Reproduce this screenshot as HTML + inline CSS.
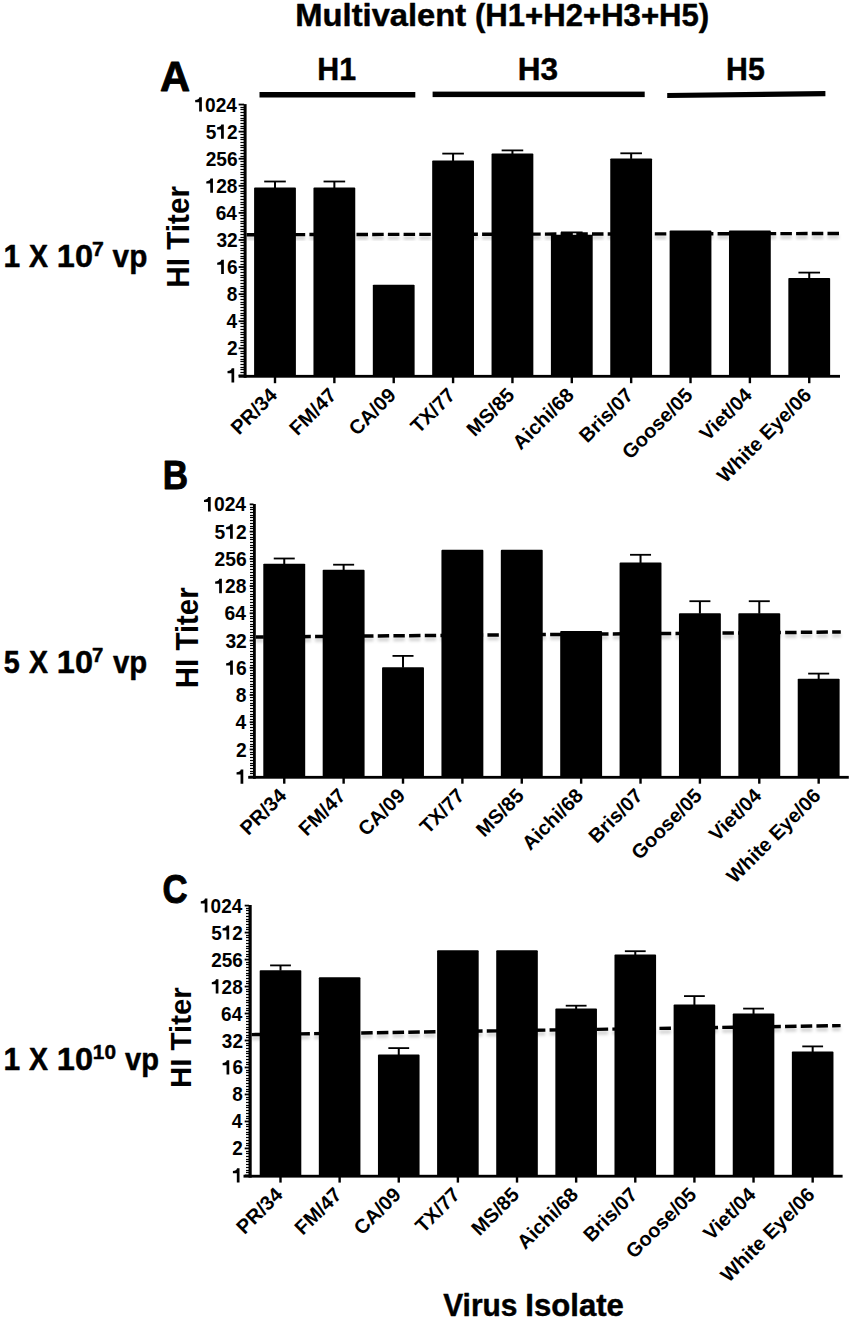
<!DOCTYPE html>
<html><head><meta charset="utf-8"><title>Multivalent HI Titer</title>
<style>html,body{margin:0;padding:0;background:#fff;width:850px;height:1322px;overflow:hidden}
svg{display:block}
text{font-family:"Liberation Sans",sans-serif;font-weight:bold;fill:#000}</style></head>
<body><svg width="850" height="1322" viewBox="0 0 850 1322">
<defs><filter id="sh" x="-5%" y="-200%" width="110%" height="500%"><feGaussianBlur stdDeviation="1.6"/></filter></defs>
<rect width="850" height="1322" fill="#fff"/>
<text transform="matrix(0.32724 0 0 0.31014 295.31 26.00)" font-size="100" stroke="#000" stroke-width="1.412" stroke-linejoin="round">Multivalent</text>
<text transform="matrix(0.31117 0 0 0.31014 474.94 26.00)" font-size="100" stroke="#000" stroke-width="1.449" stroke-linejoin="round">(H1+H2+H3+H5)</text>
<text transform="matrix(0.41667 0 0 0.42464 159.95 91.20)" font-size="100" stroke="#000" stroke-width="2.140" stroke-linejoin="round">A</text>
<text transform="matrix(0.35082 0 0 0.41304 162.74 488.70)" font-size="100" stroke="#000" stroke-width="2.356" stroke-linejoin="round">B</text>
<text transform="matrix(0.34769 0 0 0.41449 162.61 902.60)" font-size="100" stroke="#000" stroke-width="2.362" stroke-linejoin="round">C</text>
<text transform="matrix(0.30339 0 0 0.31739 317.28 80.10)" font-size="100" stroke="#000" stroke-width="1.450" stroke-linejoin="round">H1</text>
<text transform="matrix(0.31538 0 0 0.31159 517.79 79.70)" font-size="100" stroke="#000" stroke-width="1.435" stroke-linejoin="round">H3</text>
<text transform="matrix(0.30254 0 0 0.30725 726.08 79.70)" font-size="100" stroke="#000" stroke-width="1.476" stroke-linejoin="round">H5</text>
<rect x="259.50" y="92.00" width="155.80" height="5.50" fill="#000"/>
<rect x="432.60" y="91.60" width="212.10" height="5.50" fill="#000"/>
<polygon points="667.2,92.9 825.4,90.9 825.4,96.3 667.2,98.1"/>
<text transform="matrix(0.30000 0 0 0.32174 3.50 266.70)" font-size="100" stroke="#000" stroke-width="1.448" stroke-linejoin="round">1</text>
<text transform="matrix(0.28438 0 0 0.32174 29.12 266.70)" font-size="100" stroke="#000" stroke-width="1.485" stroke-linejoin="round">X</text>
<text transform="matrix(0.32475 0 0 0.32174 56.85 266.70)" font-size="100" stroke="#000" stroke-width="1.392" stroke-linejoin="round">10</text>
<text transform="matrix(0.21277 0 0 0.20725 92.05 255.60)" font-size="100" stroke="#000" stroke-width="2.143" stroke-linejoin="round">7</text>
<text transform="matrix(0.29730 0 0 0.31698 112.60 266.70)" font-size="100" stroke="#000" stroke-width="1.465" stroke-linejoin="round">vp</text>
<text transform="matrix(0.28800 0 0 0.32174 3.84 672.70)" font-size="100" stroke="#000" stroke-width="1.476" stroke-linejoin="round">5</text>
<text transform="matrix(0.28438 0 0 0.32174 29.12 672.70)" font-size="100" stroke="#000" stroke-width="1.485" stroke-linejoin="round">X</text>
<text transform="matrix(0.32475 0 0 0.32174 56.85 672.70)" font-size="100" stroke="#000" stroke-width="1.392" stroke-linejoin="round">10</text>
<text transform="matrix(0.20426 0 0 0.20290 92.08 661.60)" font-size="100" stroke="#000" stroke-width="2.210" stroke-linejoin="round">7</text>
<text transform="matrix(0.29369 0 0 0.31698 113.01 672.70)" font-size="100" stroke="#000" stroke-width="1.474" stroke-linejoin="round">vp</text>
<text transform="matrix(0.30000 0 0 0.32174 3.50 1069.50)" font-size="100" stroke="#000" stroke-width="1.448" stroke-linejoin="round">1</text>
<text transform="matrix(0.28438 0 0 0.32174 29.12 1069.50)" font-size="100" stroke="#000" stroke-width="1.485" stroke-linejoin="round">X</text>
<text transform="matrix(0.32574 0 0 0.32174 56.85 1069.50)" font-size="100" stroke="#000" stroke-width="1.390" stroke-linejoin="round">10</text>
<text transform="matrix(0.20792 0 0 0.20000 92.85 1058.60)" font-size="100" stroke="#000" stroke-width="2.206" stroke-linejoin="round">10</text>
<text transform="matrix(0.29099 0 0 0.32075 125.01 1069.50)" font-size="100" stroke="#000" stroke-width="1.471" stroke-linejoin="round">vp</text>
<text transform="matrix(0 -0.29701 0.30580 0 188.90 287.78)" font-size="100">HI Titer</text>
<text transform="matrix(0 -0.29431 0.30725 0 198.20 688.16)" font-size="100">HI Titer</text>
<text transform="matrix(0 -0.29401 0.30145 0 191.10 1087.96)" font-size="100">HI Titer</text>
<text transform="matrix(0.29918 0 0 0.32174 443.20 1316.40)" font-size="100" stroke="#000" stroke-width="1.449" stroke-linejoin="round">Virus</text>
<text transform="matrix(0.31111 0 0 0.32174 525.32 1316.40)" font-size="100" stroke="#000" stroke-width="1.422" stroke-linejoin="round">Isolate</text>
<rect x="243.60" y="104.10" width="3.00" height="273.60" fill="#000"/>
<rect x="238.60" y="374.90" width="601.40" height="2.80" fill="#000"/>
<rect x="238.60" y="374.50" width="5.50" height="1.80" fill="#000"/>
<g transform="matrix(0.19136 0 0 0.20143 226.76 382.45)"><path transform="translate(0.0 0)" d="M38.9 0L24.7 0L24.7 -46L4 -46L4 -57C16 -57.5 24 -62.5 26 -71L38.9 -71Z"/></g>
<rect x="240.40" y="371.90" width="3.70" height="1.20" fill="#000"/>
<rect x="240.40" y="368.90" width="3.70" height="1.20" fill="#000"/>
<rect x="240.40" y="366.90" width="3.70" height="1.20" fill="#000"/>
<rect x="240.40" y="363.90" width="3.70" height="1.20" fill="#000"/>
<rect x="240.40" y="360.90" width="3.70" height="1.20" fill="#000"/>
<rect x="240.40" y="358.90" width="3.70" height="1.20" fill="#000"/>
<rect x="240.40" y="355.90" width="3.70" height="1.20" fill="#000"/>
<rect x="240.40" y="352.90" width="3.70" height="1.20" fill="#000"/>
<rect x="240.40" y="350.90" width="3.70" height="1.20" fill="#000"/>
<rect x="238.60" y="347.42" width="5.50" height="1.80" fill="#000"/>
<g transform="matrix(0.19136 0 0 0.20143 226.95 355.37)"><text x="0.0" y="0" font-size="100">2</text></g>
<rect x="240.40" y="344.90" width="3.70" height="1.20" fill="#000"/>
<rect x="240.40" y="341.90" width="3.70" height="1.20" fill="#000"/>
<rect x="240.40" y="339.90" width="3.70" height="1.20" fill="#000"/>
<rect x="240.40" y="336.90" width="3.70" height="1.20" fill="#000"/>
<rect x="240.40" y="333.90" width="3.70" height="1.20" fill="#000"/>
<rect x="240.40" y="331.90" width="3.70" height="1.20" fill="#000"/>
<rect x="240.40" y="328.90" width="3.70" height="1.20" fill="#000"/>
<rect x="240.40" y="325.90" width="3.70" height="1.20" fill="#000"/>
<rect x="240.40" y="322.90" width="3.70" height="1.20" fill="#000"/>
<rect x="238.60" y="320.33" width="5.50" height="1.80" fill="#000"/>
<g transform="matrix(0.19136 0 0 0.20143 226.38 328.28)"><text x="0.0" y="0" font-size="100">4</text></g>
<rect x="240.40" y="317.90" width="3.70" height="1.20" fill="#000"/>
<rect x="240.40" y="314.90" width="3.70" height="1.20" fill="#000"/>
<rect x="240.40" y="312.90" width="3.70" height="1.20" fill="#000"/>
<rect x="240.40" y="309.90" width="3.70" height="1.20" fill="#000"/>
<rect x="240.40" y="306.90" width="3.70" height="1.20" fill="#000"/>
<rect x="240.40" y="303.90" width="3.70" height="1.20" fill="#000"/>
<rect x="240.40" y="301.90" width="3.70" height="1.20" fill="#000"/>
<rect x="240.40" y="298.90" width="3.70" height="1.20" fill="#000"/>
<rect x="240.40" y="295.90" width="3.70" height="1.20" fill="#000"/>
<rect x="238.60" y="293.25" width="5.50" height="1.80" fill="#000"/>
<g transform="matrix(0.19136 0 0 0.20143 226.76 301.19)"><text x="0.0" y="0" font-size="100">8</text></g>
<rect x="240.40" y="290.90" width="3.70" height="1.20" fill="#000"/>
<rect x="240.40" y="287.90" width="3.70" height="1.20" fill="#000"/>
<rect x="240.40" y="285.90" width="3.70" height="1.20" fill="#000"/>
<rect x="240.40" y="282.90" width="3.70" height="1.20" fill="#000"/>
<rect x="240.40" y="279.90" width="3.70" height="1.20" fill="#000"/>
<rect x="240.40" y="276.90" width="3.70" height="1.20" fill="#000"/>
<rect x="240.40" y="274.90" width="3.70" height="1.20" fill="#000"/>
<rect x="240.40" y="271.90" width="3.70" height="1.20" fill="#000"/>
<rect x="240.40" y="268.90" width="3.70" height="1.20" fill="#000"/>
<rect x="238.60" y="266.16" width="5.50" height="1.80" fill="#000"/>
<g transform="matrix(0.19136 0 0 0.20143 216.42 274.11)"><path transform="translate(0.0 0)" d="M38.9 0L24.7 0L24.7 -46L4 -46L4 -57C16 -57.5 24 -62.5 26 -71L38.9 -71Z"/><text x="55.6" y="0" font-size="100">6</text></g>
<rect x="240.40" y="263.90" width="3.70" height="1.20" fill="#000"/>
<rect x="240.40" y="260.90" width="3.70" height="1.20" fill="#000"/>
<rect x="240.40" y="257.90" width="3.70" height="1.20" fill="#000"/>
<rect x="240.40" y="255.90" width="3.70" height="1.20" fill="#000"/>
<rect x="240.40" y="252.90" width="3.70" height="1.20" fill="#000"/>
<rect x="240.40" y="249.90" width="3.70" height="1.20" fill="#000"/>
<rect x="240.40" y="247.90" width="3.70" height="1.20" fill="#000"/>
<rect x="240.40" y="244.90" width="3.70" height="1.20" fill="#000"/>
<rect x="240.40" y="241.90" width="3.70" height="1.20" fill="#000"/>
<rect x="238.60" y="239.07" width="5.50" height="1.80" fill="#000"/>
<g transform="matrix(0.19136 0 0 0.20143 216.42 247.03)"><text x="0.0" y="0" font-size="100">3</text><text x="55.6" y="0" font-size="100">2</text></g>
<rect x="240.40" y="236.90" width="3.70" height="1.20" fill="#000"/>
<rect x="240.40" y="233.90" width="3.70" height="1.20" fill="#000"/>
<rect x="240.40" y="230.90" width="3.70" height="1.20" fill="#000"/>
<rect x="240.40" y="228.90" width="3.70" height="1.20" fill="#000"/>
<rect x="240.40" y="225.90" width="3.70" height="1.20" fill="#000"/>
<rect x="240.40" y="222.90" width="3.70" height="1.20" fill="#000"/>
<rect x="240.40" y="220.90" width="3.70" height="1.20" fill="#000"/>
<rect x="240.40" y="217.90" width="3.70" height="1.20" fill="#000"/>
<rect x="240.40" y="214.90" width="3.70" height="1.20" fill="#000"/>
<rect x="238.60" y="211.99" width="5.50" height="1.80" fill="#000"/>
<g transform="matrix(0.19136 0 0 0.20143 215.66 219.94)"><text x="0.0" y="0" font-size="100">6</text><text x="55.6" y="0" font-size="100">4</text></g>
<rect x="240.40" y="209.90" width="3.70" height="1.20" fill="#000"/>
<rect x="240.40" y="206.90" width="3.70" height="1.20" fill="#000"/>
<rect x="240.40" y="203.90" width="3.70" height="1.20" fill="#000"/>
<rect x="240.40" y="201.90" width="3.70" height="1.20" fill="#000"/>
<rect x="240.40" y="198.90" width="3.70" height="1.20" fill="#000"/>
<rect x="240.40" y="195.90" width="3.70" height="1.20" fill="#000"/>
<rect x="240.40" y="192.90" width="3.70" height="1.20" fill="#000"/>
<rect x="240.40" y="190.90" width="3.70" height="1.20" fill="#000"/>
<rect x="240.40" y="187.90" width="3.70" height="1.20" fill="#000"/>
<rect x="238.60" y="184.91" width="5.50" height="1.80" fill="#000"/>
<g transform="matrix(0.19136 0 0 0.20143 205.52 192.86)"><path transform="translate(0.0 0)" d="M38.9 0L24.7 0L24.7 -46L4 -46L4 -57C16 -57.5 24 -62.5 26 -71L38.9 -71Z"/><text x="55.6" y="0" font-size="100">2</text><text x="111.2" y="0" font-size="100">8</text></g>
<rect x="240.40" y="182.90" width="3.70" height="1.20" fill="#000"/>
<rect x="240.40" y="179.90" width="3.70" height="1.20" fill="#000"/>
<rect x="240.40" y="176.90" width="3.70" height="1.20" fill="#000"/>
<rect x="240.40" y="173.90" width="3.70" height="1.20" fill="#000"/>
<rect x="240.40" y="171.90" width="3.70" height="1.20" fill="#000"/>
<rect x="240.40" y="168.90" width="3.70" height="1.20" fill="#000"/>
<rect x="240.40" y="165.90" width="3.70" height="1.20" fill="#000"/>
<rect x="240.40" y="163.90" width="3.70" height="1.20" fill="#000"/>
<rect x="240.40" y="160.90" width="3.70" height="1.20" fill="#000"/>
<rect x="238.60" y="157.82" width="5.50" height="1.80" fill="#000"/>
<g transform="matrix(0.19136 0 0 0.20143 205.71 165.77)"><text x="0.0" y="0" font-size="100">2</text><text x="55.6" y="0" font-size="100">5</text><text x="111.2" y="0" font-size="100">6</text></g>
<rect x="240.40" y="155.90" width="3.70" height="1.20" fill="#000"/>
<rect x="240.40" y="152.90" width="3.70" height="1.20" fill="#000"/>
<rect x="240.40" y="149.90" width="3.70" height="1.20" fill="#000"/>
<rect x="240.40" y="146.90" width="3.70" height="1.20" fill="#000"/>
<rect x="240.40" y="144.90" width="3.70" height="1.20" fill="#000"/>
<rect x="240.40" y="141.90" width="3.70" height="1.20" fill="#000"/>
<rect x="240.40" y="138.90" width="3.70" height="1.20" fill="#000"/>
<rect x="240.40" y="136.90" width="3.70" height="1.20" fill="#000"/>
<rect x="240.40" y="133.90" width="3.70" height="1.20" fill="#000"/>
<rect x="238.60" y="130.73" width="5.50" height="1.80" fill="#000"/>
<g transform="matrix(0.19136 0 0 0.20143 205.71 138.69)"><text x="0.0" y="0" font-size="100">5</text><path transform="translate(55.6 0)" d="M38.9 0L24.7 0L24.7 -46L4 -46L4 -57C16 -57.5 24 -62.5 26 -71L38.9 -71Z"/><text x="111.2" y="0" font-size="100">2</text></g>
<rect x="240.40" y="127.90" width="3.70" height="1.20" fill="#000"/>
<rect x="240.40" y="125.90" width="3.70" height="1.20" fill="#000"/>
<rect x="240.40" y="122.90" width="3.70" height="1.20" fill="#000"/>
<rect x="240.40" y="119.90" width="3.70" height="1.20" fill="#000"/>
<rect x="240.40" y="117.90" width="3.70" height="1.20" fill="#000"/>
<rect x="240.40" y="114.90" width="3.70" height="1.20" fill="#000"/>
<rect x="240.40" y="111.90" width="3.70" height="1.20" fill="#000"/>
<rect x="240.40" y="108.90" width="3.70" height="1.20" fill="#000"/>
<rect x="240.40" y="106.90" width="3.70" height="1.20" fill="#000"/>
<rect x="238.60" y="103.65" width="5.50" height="1.80" fill="#000"/>
<g transform="matrix(0.19136 0 0 0.20143 194.42 111.60)"><path transform="translate(0.0 0)" d="M38.9 0L24.7 0L24.7 -46L4 -46L4 -57C16 -57.5 24 -62.5 26 -71L38.9 -71Z"/><text x="55.6" y="0" font-size="100">0</text><text x="111.2" y="0" font-size="100">2</text><text x="166.8" y="0" font-size="100">4</text></g>
<line x1="246.6" y1="238.29999999999998" x2="839.0" y2="237.1" stroke="#000" stroke-opacity="0.18" stroke-width="3.5" stroke-dasharray="11.5 4.2" stroke-dashoffset="0" filter="url(#sh)"/>
<line x1="246.6" y1="234.7" x2="839.0" y2="233.5" stroke="#000" stroke-width="3.4" stroke-dasharray="11.5 4.2" stroke-dashoffset="0"/>
<rect x="254.10" y="187.60" width="41.80" height="188.70" rx="0.9"/>
<rect x="274.00" y="181.50" width="2.00" height="6.60" fill="#000"/>
<rect x="264.20" y="180.60" width="21.60" height="1.80" fill="#000"/>
<rect x="273.80" y="376.30" width="2.40" height="6.90" fill="#000"/>
<text transform="translate(278.30 396.50) rotate(-45)" text-anchor="end" font-size="20.0" stroke="#000" stroke-width="0.0" stroke-linejoin="round">PR/34</text>
<rect x="313.46" y="187.60" width="41.80" height="188.70" rx="0.9"/>
<rect x="333.36" y="181.50" width="2.00" height="6.60" fill="#000"/>
<rect x="323.56" y="180.60" width="21.60" height="1.80" fill="#000"/>
<rect x="333.16" y="376.30" width="2.40" height="6.90" fill="#000"/>
<text transform="translate(337.66 396.50) rotate(-45)" text-anchor="end" font-size="20.0" stroke="#000" stroke-width="0.0" stroke-linejoin="round">FM/47</text>
<rect x="372.82" y="284.70" width="41.80" height="91.60" rx="0.9"/>
<rect x="392.52" y="376.30" width="2.40" height="6.90" fill="#000"/>
<text transform="translate(397.02 396.50) rotate(-45)" text-anchor="end" font-size="20.0" stroke="#000" stroke-width="0.0" stroke-linejoin="round">CA/09</text>
<rect x="432.18" y="160.60" width="41.80" height="215.70" rx="0.9"/>
<rect x="452.08" y="153.60" width="2.00" height="7.50" fill="#000"/>
<rect x="442.28" y="152.70" width="21.60" height="1.80" fill="#000"/>
<rect x="451.88" y="376.30" width="2.40" height="6.90" fill="#000"/>
<text transform="translate(456.38 396.50) rotate(-45)" text-anchor="end" font-size="20.0" stroke="#000" stroke-width="0.0" stroke-linejoin="round">TX/77</text>
<rect x="491.54" y="153.60" width="41.80" height="222.70" rx="0.9"/>
<rect x="511.44" y="150.40" width="2.00" height="3.70" fill="#000"/>
<rect x="501.64" y="149.50" width="21.60" height="1.80" fill="#000"/>
<rect x="511.24" y="376.30" width="2.40" height="6.90" fill="#000"/>
<text transform="translate(515.74 396.50) rotate(-45)" text-anchor="end" font-size="20.0" stroke="#000" stroke-width="0.0" stroke-linejoin="round">MS/85</text>
<rect x="550.90" y="234.70" width="41.80" height="141.60" rx="0.9"/>
<rect x="570.80" y="232.40" width="2.00" height="2.80" fill="#000"/>
<rect x="561.00" y="231.50" width="21.60" height="1.80" fill="#000"/>
<rect x="570.60" y="376.30" width="2.40" height="6.90" fill="#000"/>
<text transform="translate(575.10 396.50) rotate(-45)" text-anchor="end" font-size="20.0" stroke="#000" stroke-width="0.0" stroke-linejoin="round">Aichi/68</text>
<rect x="610.26" y="158.40" width="41.80" height="217.90" rx="0.9"/>
<rect x="630.16" y="153.30" width="2.00" height="5.60" fill="#000"/>
<rect x="620.36" y="152.40" width="21.60" height="1.80" fill="#000"/>
<rect x="629.96" y="376.30" width="2.40" height="6.90" fill="#000"/>
<text transform="translate(634.46 396.50) rotate(-45)" text-anchor="end" font-size="20.0" stroke="#000" stroke-width="0.0" stroke-linejoin="round">Bris/07</text>
<rect x="669.62" y="230.50" width="41.80" height="145.80" rx="0.9"/>
<rect x="689.32" y="376.30" width="2.40" height="6.90" fill="#000"/>
<text transform="translate(693.82 396.50) rotate(-45)" text-anchor="end" font-size="20.0" stroke="#000" stroke-width="0.0" stroke-linejoin="round">Goose/05</text>
<rect x="728.98" y="230.50" width="41.80" height="145.80" rx="0.9"/>
<rect x="748.68" y="376.30" width="2.40" height="6.90" fill="#000"/>
<text transform="translate(753.18 396.50) rotate(-45)" text-anchor="end" font-size="20.0" stroke="#000" stroke-width="0.0" stroke-linejoin="round">Viet/04</text>
<rect x="788.34" y="277.90" width="41.80" height="98.40" rx="0.9"/>
<rect x="808.24" y="272.60" width="2.00" height="5.80" fill="#000"/>
<rect x="798.44" y="271.70" width="21.60" height="1.80" fill="#000"/>
<rect x="808.04" y="376.30" width="2.40" height="6.90" fill="#000"/>
<text transform="translate(812.54 396.50) rotate(-45)" text-anchor="end" font-size="20.0" stroke="#000" stroke-width="0.0" stroke-linejoin="round">White Eye/06</text>
<rect x="253.00" y="504.00" width="2.80" height="274.70" fill="#000"/>
<rect x="248.20" y="775.90" width="600.60" height="2.80" fill="#000"/>
<rect x="249.70" y="775.80" width="3.80" height="1.80" fill="#000"/>
<g transform="matrix(0.19271 0 0 0.20286 235.79 783.80)"><path transform="translate(0.0 0)" d="M38.9 0L24.7 0L24.7 -46L4 -46L4 -57C16 -57.5 24 -62.5 26 -71L38.9 -71Z"/></g>
<rect x="250.00" y="772.90" width="3.50" height="1.20" fill="#000"/>
<rect x="250.00" y="770.90" width="3.50" height="1.20" fill="#000"/>
<rect x="250.00" y="767.90" width="3.50" height="1.20" fill="#000"/>
<rect x="250.00" y="764.90" width="3.50" height="1.20" fill="#000"/>
<rect x="250.00" y="762.90" width="3.50" height="1.20" fill="#000"/>
<rect x="250.00" y="759.90" width="3.50" height="1.20" fill="#000"/>
<rect x="250.00" y="756.90" width="3.50" height="1.20" fill="#000"/>
<rect x="250.00" y="753.90" width="3.50" height="1.20" fill="#000"/>
<rect x="250.00" y="751.90" width="3.50" height="1.20" fill="#000"/>
<rect x="249.70" y="748.57" width="3.80" height="1.80" fill="#000"/>
<g transform="matrix(0.19271 0 0 0.20286 235.98 756.57)"><text x="0.0" y="0" font-size="100">2</text></g>
<rect x="250.00" y="745.90" width="3.50" height="1.20" fill="#000"/>
<rect x="250.00" y="743.90" width="3.50" height="1.20" fill="#000"/>
<rect x="250.00" y="740.90" width="3.50" height="1.20" fill="#000"/>
<rect x="250.00" y="737.90" width="3.50" height="1.20" fill="#000"/>
<rect x="250.00" y="734.90" width="3.50" height="1.20" fill="#000"/>
<rect x="250.00" y="732.90" width="3.50" height="1.20" fill="#000"/>
<rect x="250.00" y="729.90" width="3.50" height="1.20" fill="#000"/>
<rect x="250.00" y="726.90" width="3.50" height="1.20" fill="#000"/>
<rect x="250.00" y="723.90" width="3.50" height="1.20" fill="#000"/>
<rect x="249.70" y="721.33" width="3.80" height="1.80" fill="#000"/>
<g transform="matrix(0.19271 0 0 0.20286 235.40 729.33)"><text x="0.0" y="0" font-size="100">4</text></g>
<rect x="250.00" y="718.90" width="3.50" height="1.20" fill="#000"/>
<rect x="250.00" y="715.90" width="3.50" height="1.20" fill="#000"/>
<rect x="250.00" y="713.90" width="3.50" height="1.20" fill="#000"/>
<rect x="250.00" y="710.90" width="3.50" height="1.20" fill="#000"/>
<rect x="250.00" y="707.90" width="3.50" height="1.20" fill="#000"/>
<rect x="250.00" y="704.90" width="3.50" height="1.20" fill="#000"/>
<rect x="250.00" y="702.90" width="3.50" height="1.20" fill="#000"/>
<rect x="250.00" y="699.90" width="3.50" height="1.20" fill="#000"/>
<rect x="250.00" y="696.90" width="3.50" height="1.20" fill="#000"/>
<rect x="249.70" y="694.10" width="3.80" height="1.80" fill="#000"/>
<g transform="matrix(0.19271 0 0 0.20286 235.79 702.10)"><text x="0.0" y="0" font-size="100">8</text></g>
<rect x="250.00" y="691.90" width="3.50" height="1.20" fill="#000"/>
<rect x="250.00" y="688.90" width="3.50" height="1.20" fill="#000"/>
<rect x="250.00" y="685.90" width="3.50" height="1.20" fill="#000"/>
<rect x="250.00" y="683.90" width="3.50" height="1.20" fill="#000"/>
<rect x="250.00" y="680.90" width="3.50" height="1.20" fill="#000"/>
<rect x="250.00" y="677.90" width="3.50" height="1.20" fill="#000"/>
<rect x="250.00" y="674.90" width="3.50" height="1.20" fill="#000"/>
<rect x="250.00" y="672.90" width="3.50" height="1.20" fill="#000"/>
<rect x="250.00" y="669.90" width="3.50" height="1.20" fill="#000"/>
<rect x="249.70" y="666.86" width="3.80" height="1.80" fill="#000"/>
<g transform="matrix(0.19271 0 0 0.20286 225.38 674.86)"><path transform="translate(0.0 0)" d="M38.9 0L24.7 0L24.7 -46L4 -46L4 -57C16 -57.5 24 -62.5 26 -71L38.9 -71Z"/><text x="55.6" y="0" font-size="100">6</text></g>
<rect x="250.00" y="664.90" width="3.50" height="1.20" fill="#000"/>
<rect x="250.00" y="661.90" width="3.50" height="1.20" fill="#000"/>
<rect x="250.00" y="658.90" width="3.50" height="1.20" fill="#000"/>
<rect x="250.00" y="655.90" width="3.50" height="1.20" fill="#000"/>
<rect x="250.00" y="653.90" width="3.50" height="1.20" fill="#000"/>
<rect x="250.00" y="650.90" width="3.50" height="1.20" fill="#000"/>
<rect x="250.00" y="647.90" width="3.50" height="1.20" fill="#000"/>
<rect x="250.00" y="644.90" width="3.50" height="1.20" fill="#000"/>
<rect x="250.00" y="642.90" width="3.50" height="1.20" fill="#000"/>
<rect x="249.70" y="639.63" width="3.80" height="1.80" fill="#000"/>
<g transform="matrix(0.19271 0 0 0.20286 225.38 647.63)"><text x="0.0" y="0" font-size="100">3</text><text x="55.6" y="0" font-size="100">2</text></g>
<rect x="250.00" y="636.90" width="3.50" height="1.20" fill="#000"/>
<rect x="250.00" y="634.90" width="3.50" height="1.20" fill="#000"/>
<rect x="250.00" y="631.90" width="3.50" height="1.20" fill="#000"/>
<rect x="250.00" y="628.90" width="3.50" height="1.20" fill="#000"/>
<rect x="250.00" y="625.90" width="3.50" height="1.20" fill="#000"/>
<rect x="250.00" y="623.90" width="3.50" height="1.20" fill="#000"/>
<rect x="250.00" y="620.90" width="3.50" height="1.20" fill="#000"/>
<rect x="250.00" y="617.90" width="3.50" height="1.20" fill="#000"/>
<rect x="250.00" y="615.90" width="3.50" height="1.20" fill="#000"/>
<rect x="249.70" y="612.39" width="3.80" height="1.80" fill="#000"/>
<g transform="matrix(0.19271 0 0 0.20286 224.61 620.39)"><text x="0.0" y="0" font-size="100">6</text><text x="55.6" y="0" font-size="100">4</text></g>
<rect x="250.00" y="609.90" width="3.50" height="1.20" fill="#000"/>
<rect x="250.00" y="606.90" width="3.50" height="1.20" fill="#000"/>
<rect x="250.00" y="604.90" width="3.50" height="1.20" fill="#000"/>
<rect x="250.00" y="601.90" width="3.50" height="1.20" fill="#000"/>
<rect x="250.00" y="598.90" width="3.50" height="1.20" fill="#000"/>
<rect x="250.00" y="595.90" width="3.50" height="1.20" fill="#000"/>
<rect x="250.00" y="593.90" width="3.50" height="1.20" fill="#000"/>
<rect x="250.00" y="590.90" width="3.50" height="1.20" fill="#000"/>
<rect x="250.00" y="587.90" width="3.50" height="1.20" fill="#000"/>
<rect x="249.70" y="585.16" width="3.80" height="1.80" fill="#000"/>
<g transform="matrix(0.19271 0 0 0.20286 214.39 593.16)"><path transform="translate(0.0 0)" d="M38.9 0L24.7 0L24.7 -46L4 -46L4 -57C16 -57.5 24 -62.5 26 -71L38.9 -71Z"/><text x="55.6" y="0" font-size="100">2</text><text x="111.2" y="0" font-size="100">8</text></g>
<rect x="250.00" y="582.90" width="3.50" height="1.20" fill="#000"/>
<rect x="250.00" y="579.90" width="3.50" height="1.20" fill="#000"/>
<rect x="250.00" y="576.90" width="3.50" height="1.20" fill="#000"/>
<rect x="250.00" y="574.90" width="3.50" height="1.20" fill="#000"/>
<rect x="250.00" y="571.90" width="3.50" height="1.20" fill="#000"/>
<rect x="250.00" y="568.90" width="3.50" height="1.20" fill="#000"/>
<rect x="250.00" y="565.90" width="3.50" height="1.20" fill="#000"/>
<rect x="250.00" y="563.90" width="3.50" height="1.20" fill="#000"/>
<rect x="250.00" y="560.90" width="3.50" height="1.20" fill="#000"/>
<rect x="249.70" y="557.92" width="3.80" height="1.80" fill="#000"/>
<g transform="matrix(0.19271 0 0 0.20286 214.59 565.92)"><text x="0.0" y="0" font-size="100">2</text><text x="55.6" y="0" font-size="100">5</text><text x="111.2" y="0" font-size="100">6</text></g>
<rect x="250.00" y="555.90" width="3.50" height="1.20" fill="#000"/>
<rect x="250.00" y="552.90" width="3.50" height="1.20" fill="#000"/>
<rect x="250.00" y="549.90" width="3.50" height="1.20" fill="#000"/>
<rect x="250.00" y="546.90" width="3.50" height="1.20" fill="#000"/>
<rect x="250.00" y="544.90" width="3.50" height="1.20" fill="#000"/>
<rect x="250.00" y="541.90" width="3.50" height="1.20" fill="#000"/>
<rect x="250.00" y="538.90" width="3.50" height="1.20" fill="#000"/>
<rect x="250.00" y="536.90" width="3.50" height="1.20" fill="#000"/>
<rect x="250.00" y="533.90" width="3.50" height="1.20" fill="#000"/>
<rect x="249.70" y="530.69" width="3.80" height="1.80" fill="#000"/>
<g transform="matrix(0.19271 0 0 0.20286 214.59 538.69)"><text x="0.0" y="0" font-size="100">5</text><path transform="translate(55.6 0)" d="M38.9 0L24.7 0L24.7 -46L4 -46L4 -57C16 -57.5 24 -62.5 26 -71L38.9 -71Z"/><text x="111.2" y="0" font-size="100">2</text></g>
<rect x="250.00" y="527.90" width="3.50" height="1.20" fill="#000"/>
<rect x="250.00" y="525.90" width="3.50" height="1.20" fill="#000"/>
<rect x="250.00" y="522.90" width="3.50" height="1.20" fill="#000"/>
<rect x="250.00" y="519.90" width="3.50" height="1.20" fill="#000"/>
<rect x="250.00" y="516.90" width="3.50" height="1.20" fill="#000"/>
<rect x="250.00" y="514.90" width="3.50" height="1.20" fill="#000"/>
<rect x="250.00" y="511.90" width="3.50" height="1.20" fill="#000"/>
<rect x="250.00" y="508.90" width="3.50" height="1.20" fill="#000"/>
<rect x="250.00" y="506.90" width="3.50" height="1.20" fill="#000"/>
<rect x="249.70" y="503.45" width="3.80" height="1.80" fill="#000"/>
<g transform="matrix(0.19271 0 0 0.20286 203.22 511.45)"><path transform="translate(0.0 0)" d="M38.9 0L24.7 0L24.7 -46L4 -46L4 -57C16 -57.5 24 -62.5 26 -71L38.9 -71Z"/><text x="55.6" y="0" font-size="100">0</text><text x="111.2" y="0" font-size="100">2</text><text x="166.8" y="0" font-size="100">4</text></g>
<line x1="255.8" y1="640.6" x2="840.8" y2="635.6" stroke="#000" stroke-opacity="0.18" stroke-width="3.5" stroke-dasharray="11.4 4.27" stroke-dashoffset="3.4" filter="url(#sh)"/>
<line x1="255.8" y1="637.0" x2="840.8" y2="632.0" stroke="#000" stroke-width="3.5" stroke-dasharray="11.4 4.27" stroke-dashoffset="3.4"/>
<rect x="263.30" y="563.70" width="41.90" height="213.60" rx="0.9"/>
<rect x="283.25" y="558.50" width="2.00" height="5.70" fill="#000"/>
<rect x="273.75" y="557.60" width="21.00" height="1.80" fill="#000"/>
<rect x="283.05" y="777.30" width="2.40" height="6.40" fill="#000"/>
<text transform="translate(287.55 797.00) rotate(-45)" text-anchor="end" font-size="20.0" stroke="#000" stroke-width="0.0" stroke-linejoin="round">PR/34</text>
<rect x="322.68" y="569.80" width="41.90" height="207.50" rx="0.9"/>
<rect x="342.63" y="564.70" width="2.00" height="5.60" fill="#000"/>
<rect x="333.13" y="563.80" width="21.00" height="1.80" fill="#000"/>
<rect x="342.43" y="777.30" width="2.40" height="6.40" fill="#000"/>
<text transform="translate(346.93 797.00) rotate(-45)" text-anchor="end" font-size="20.0" stroke="#000" stroke-width="0.0" stroke-linejoin="round">FM/47</text>
<rect x="382.06" y="667.20" width="41.90" height="110.10" rx="0.9"/>
<rect x="402.01" y="655.90" width="2.00" height="11.80" fill="#000"/>
<rect x="392.51" y="655.00" width="21.00" height="1.80" fill="#000"/>
<rect x="401.81" y="777.30" width="2.40" height="6.40" fill="#000"/>
<text transform="translate(406.31 797.00) rotate(-45)" text-anchor="end" font-size="20.0" stroke="#000" stroke-width="0.0" stroke-linejoin="round">CA/09</text>
<rect x="441.44" y="549.80" width="41.90" height="227.50" rx="0.9"/>
<rect x="461.19" y="777.30" width="2.40" height="6.40" fill="#000"/>
<text transform="translate(465.69 797.00) rotate(-45)" text-anchor="end" font-size="20.0" stroke="#000" stroke-width="0.0" stroke-linejoin="round">TX/77</text>
<rect x="500.82" y="549.80" width="41.90" height="227.50" rx="0.9"/>
<rect x="520.57" y="777.30" width="2.40" height="6.40" fill="#000"/>
<text transform="translate(525.07 797.00) rotate(-45)" text-anchor="end" font-size="20.0" stroke="#000" stroke-width="0.0" stroke-linejoin="round">MS/85</text>
<rect x="560.20" y="631.10" width="41.90" height="146.20" rx="0.9"/>
<rect x="579.95" y="777.30" width="2.40" height="6.40" fill="#000"/>
<text transform="translate(584.45 797.00) rotate(-45)" text-anchor="end" font-size="20.0" stroke="#000" stroke-width="0.0" stroke-linejoin="round">Aichi/68</text>
<rect x="619.58" y="562.50" width="41.90" height="214.80" rx="0.9"/>
<rect x="639.53" y="554.80" width="2.00" height="8.20" fill="#000"/>
<rect x="630.03" y="553.90" width="21.00" height="1.80" fill="#000"/>
<rect x="639.33" y="777.30" width="2.40" height="6.40" fill="#000"/>
<text transform="translate(643.83 797.00) rotate(-45)" text-anchor="end" font-size="20.0" stroke="#000" stroke-width="0.0" stroke-linejoin="round">Bris/07</text>
<rect x="678.96" y="613.20" width="41.90" height="164.10" rx="0.9"/>
<rect x="698.91" y="601.20" width="2.00" height="12.50" fill="#000"/>
<rect x="689.41" y="600.30" width="21.00" height="1.80" fill="#000"/>
<rect x="698.71" y="777.30" width="2.40" height="6.40" fill="#000"/>
<text transform="translate(703.21 797.00) rotate(-45)" text-anchor="end" font-size="20.0" stroke="#000" stroke-width="0.0" stroke-linejoin="round">Goose/05</text>
<rect x="738.34" y="613.20" width="41.90" height="164.10" rx="0.9"/>
<rect x="758.29" y="601.20" width="2.00" height="12.50" fill="#000"/>
<rect x="748.79" y="600.30" width="21.00" height="1.80" fill="#000"/>
<rect x="758.09" y="777.30" width="2.40" height="6.40" fill="#000"/>
<text transform="translate(762.59 797.00) rotate(-45)" text-anchor="end" font-size="20.0" stroke="#000" stroke-width="0.0" stroke-linejoin="round">Viet/04</text>
<rect x="797.72" y="678.70" width="41.90" height="98.60" rx="0.9"/>
<rect x="817.67" y="673.60" width="2.00" height="5.60" fill="#000"/>
<rect x="808.17" y="672.70" width="21.00" height="1.80" fill="#000"/>
<rect x="817.47" y="777.30" width="2.40" height="6.40" fill="#000"/>
<text transform="translate(821.97 797.00) rotate(-45)" text-anchor="end" font-size="20.0" stroke="#000" stroke-width="0.0" stroke-linejoin="round">White Eye/06</text>
<rect x="248.50" y="905.00" width="3.20" height="272.60" fill="#000"/>
<rect x="243.50" y="1174.80" width="599.10" height="2.80" fill="#000"/>
<rect x="244.70" y="1174.50" width="4.30" height="1.80" fill="#000"/>
<g transform="matrix(0.19000 0 0 0.20000 232.13 1182.40)"><path transform="translate(0.0 0)" d="M38.9 0L24.7 0L24.7 -46L4 -46L4 -57C16 -57.5 24 -62.5 26 -71L38.9 -71Z"/></g>
<rect x="246.00" y="1171.90" width="3.00" height="1.20" fill="#000"/>
<rect x="246.00" y="1169.90" width="3.00" height="1.20" fill="#000"/>
<rect x="246.00" y="1166.90" width="3.00" height="1.20" fill="#000"/>
<rect x="246.00" y="1163.90" width="3.00" height="1.20" fill="#000"/>
<rect x="246.00" y="1160.90" width="3.00" height="1.20" fill="#000"/>
<rect x="246.00" y="1158.90" width="3.00" height="1.20" fill="#000"/>
<rect x="246.00" y="1155.90" width="3.00" height="1.20" fill="#000"/>
<rect x="246.00" y="1152.90" width="3.00" height="1.20" fill="#000"/>
<rect x="246.00" y="1150.90" width="3.00" height="1.20" fill="#000"/>
<rect x="244.70" y="1147.52" width="4.30" height="1.80" fill="#000"/>
<g transform="matrix(0.19000 0 0 0.20000 232.32 1155.42)"><text x="0.0" y="0" font-size="100">2</text></g>
<rect x="246.00" y="1144.90" width="3.00" height="1.20" fill="#000"/>
<rect x="246.00" y="1142.90" width="3.00" height="1.20" fill="#000"/>
<rect x="246.00" y="1139.90" width="3.00" height="1.20" fill="#000"/>
<rect x="246.00" y="1136.90" width="3.00" height="1.20" fill="#000"/>
<rect x="246.00" y="1133.90" width="3.00" height="1.20" fill="#000"/>
<rect x="246.00" y="1131.90" width="3.00" height="1.20" fill="#000"/>
<rect x="246.00" y="1128.90" width="3.00" height="1.20" fill="#000"/>
<rect x="246.00" y="1125.90" width="3.00" height="1.20" fill="#000"/>
<rect x="246.00" y="1123.90" width="3.00" height="1.20" fill="#000"/>
<rect x="244.70" y="1120.54" width="4.30" height="1.80" fill="#000"/>
<g transform="matrix(0.19000 0 0 0.20000 231.75 1128.44)"><text x="0.0" y="0" font-size="100">4</text></g>
<rect x="246.00" y="1117.90" width="3.00" height="1.20" fill="#000"/>
<rect x="246.00" y="1115.90" width="3.00" height="1.20" fill="#000"/>
<rect x="246.00" y="1112.90" width="3.00" height="1.20" fill="#000"/>
<rect x="246.00" y="1109.90" width="3.00" height="1.20" fill="#000"/>
<rect x="246.00" y="1106.90" width="3.00" height="1.20" fill="#000"/>
<rect x="246.00" y="1104.90" width="3.00" height="1.20" fill="#000"/>
<rect x="246.00" y="1101.90" width="3.00" height="1.20" fill="#000"/>
<rect x="246.00" y="1098.90" width="3.00" height="1.20" fill="#000"/>
<rect x="246.00" y="1096.90" width="3.00" height="1.20" fill="#000"/>
<rect x="244.70" y="1093.56" width="4.30" height="1.80" fill="#000"/>
<g transform="matrix(0.19000 0 0 0.20000 232.13 1101.46)"><text x="0.0" y="0" font-size="100">8</text></g>
<rect x="246.00" y="1090.90" width="3.00" height="1.20" fill="#000"/>
<rect x="246.00" y="1088.90" width="3.00" height="1.20" fill="#000"/>
<rect x="246.00" y="1085.90" width="3.00" height="1.20" fill="#000"/>
<rect x="246.00" y="1082.90" width="3.00" height="1.20" fill="#000"/>
<rect x="246.00" y="1079.90" width="3.00" height="1.20" fill="#000"/>
<rect x="246.00" y="1077.90" width="3.00" height="1.20" fill="#000"/>
<rect x="246.00" y="1074.90" width="3.00" height="1.20" fill="#000"/>
<rect x="246.00" y="1071.90" width="3.00" height="1.20" fill="#000"/>
<rect x="246.00" y="1069.90" width="3.00" height="1.20" fill="#000"/>
<rect x="244.70" y="1066.58" width="4.30" height="1.80" fill="#000"/>
<g transform="matrix(0.19000 0 0 0.20000 221.87 1074.48)"><path transform="translate(0.0 0)" d="M38.9 0L24.7 0L24.7 -46L4 -46L4 -57C16 -57.5 24 -62.5 26 -71L38.9 -71Z"/><text x="55.6" y="0" font-size="100">6</text></g>
<rect x="246.00" y="1063.90" width="3.00" height="1.20" fill="#000"/>
<rect x="246.00" y="1061.90" width="3.00" height="1.20" fill="#000"/>
<rect x="246.00" y="1058.90" width="3.00" height="1.20" fill="#000"/>
<rect x="246.00" y="1055.90" width="3.00" height="1.20" fill="#000"/>
<rect x="246.00" y="1052.90" width="3.00" height="1.20" fill="#000"/>
<rect x="246.00" y="1050.90" width="3.00" height="1.20" fill="#000"/>
<rect x="246.00" y="1047.90" width="3.00" height="1.20" fill="#000"/>
<rect x="246.00" y="1044.90" width="3.00" height="1.20" fill="#000"/>
<rect x="246.00" y="1042.90" width="3.00" height="1.20" fill="#000"/>
<rect x="244.70" y="1039.60" width="4.30" height="1.80" fill="#000"/>
<g transform="matrix(0.19000 0 0 0.20000 221.87 1047.50)"><text x="0.0" y="0" font-size="100">3</text><text x="55.6" y="0" font-size="100">2</text></g>
<rect x="246.00" y="1036.90" width="3.00" height="1.20" fill="#000"/>
<rect x="246.00" y="1034.90" width="3.00" height="1.20" fill="#000"/>
<rect x="246.00" y="1031.90" width="3.00" height="1.20" fill="#000"/>
<rect x="246.00" y="1028.90" width="3.00" height="1.20" fill="#000"/>
<rect x="246.00" y="1026.90" width="3.00" height="1.20" fill="#000"/>
<rect x="246.00" y="1023.90" width="3.00" height="1.20" fill="#000"/>
<rect x="246.00" y="1020.90" width="3.00" height="1.20" fill="#000"/>
<rect x="246.00" y="1017.90" width="3.00" height="1.20" fill="#000"/>
<rect x="246.00" y="1015.90" width="3.00" height="1.20" fill="#000"/>
<rect x="244.70" y="1012.62" width="4.30" height="1.80" fill="#000"/>
<g transform="matrix(0.19000 0 0 0.20000 221.11 1020.52)"><text x="0.0" y="0" font-size="100">6</text><text x="55.6" y="0" font-size="100">4</text></g>
<rect x="246.00" y="1009.90" width="3.00" height="1.20" fill="#000"/>
<rect x="246.00" y="1007.90" width="3.00" height="1.20" fill="#000"/>
<rect x="246.00" y="1004.90" width="3.00" height="1.20" fill="#000"/>
<rect x="246.00" y="1001.90" width="3.00" height="1.20" fill="#000"/>
<rect x="246.00" y="999.90" width="3.00" height="1.20" fill="#000"/>
<rect x="246.00" y="996.90" width="3.00" height="1.20" fill="#000"/>
<rect x="246.00" y="993.90" width="3.00" height="1.20" fill="#000"/>
<rect x="246.00" y="990.90" width="3.00" height="1.20" fill="#000"/>
<rect x="246.00" y="988.90" width="3.00" height="1.20" fill="#000"/>
<rect x="244.70" y="985.64" width="4.30" height="1.80" fill="#000"/>
<g transform="matrix(0.19000 0 0 0.20000 211.04 993.54)"><path transform="translate(0.0 0)" d="M38.9 0L24.7 0L24.7 -46L4 -46L4 -57C16 -57.5 24 -62.5 26 -71L38.9 -71Z"/><text x="55.6" y="0" font-size="100">2</text><text x="111.2" y="0" font-size="100">8</text></g>
<rect x="246.00" y="982.90" width="3.00" height="1.20" fill="#000"/>
<rect x="246.00" y="980.90" width="3.00" height="1.20" fill="#000"/>
<rect x="246.00" y="977.90" width="3.00" height="1.20" fill="#000"/>
<rect x="246.00" y="974.90" width="3.00" height="1.20" fill="#000"/>
<rect x="246.00" y="972.90" width="3.00" height="1.20" fill="#000"/>
<rect x="246.00" y="969.90" width="3.00" height="1.20" fill="#000"/>
<rect x="246.00" y="966.90" width="3.00" height="1.20" fill="#000"/>
<rect x="246.00" y="963.90" width="3.00" height="1.20" fill="#000"/>
<rect x="246.00" y="961.90" width="3.00" height="1.20" fill="#000"/>
<rect x="244.70" y="958.66" width="4.30" height="1.80" fill="#000"/>
<g transform="matrix(0.19000 0 0 0.20000 211.23 966.56)"><text x="0.0" y="0" font-size="100">2</text><text x="55.6" y="0" font-size="100">5</text><text x="111.2" y="0" font-size="100">6</text></g>
<rect x="246.00" y="955.90" width="3.00" height="1.20" fill="#000"/>
<rect x="246.00" y="953.90" width="3.00" height="1.20" fill="#000"/>
<rect x="246.00" y="950.90" width="3.00" height="1.20" fill="#000"/>
<rect x="246.00" y="947.90" width="3.00" height="1.20" fill="#000"/>
<rect x="246.00" y="945.90" width="3.00" height="1.20" fill="#000"/>
<rect x="246.00" y="942.90" width="3.00" height="1.20" fill="#000"/>
<rect x="246.00" y="939.90" width="3.00" height="1.20" fill="#000"/>
<rect x="246.00" y="936.90" width="3.00" height="1.20" fill="#000"/>
<rect x="246.00" y="934.90" width="3.00" height="1.20" fill="#000"/>
<rect x="244.70" y="931.68" width="4.30" height="1.80" fill="#000"/>
<g transform="matrix(0.19000 0 0 0.20000 211.23 939.58)"><text x="0.0" y="0" font-size="100">5</text><path transform="translate(55.6 0)" d="M38.9 0L24.7 0L24.7 -46L4 -46L4 -57C16 -57.5 24 -62.5 26 -71L38.9 -71Z"/><text x="111.2" y="0" font-size="100">2</text></g>
<rect x="246.00" y="928.90" width="3.00" height="1.20" fill="#000"/>
<rect x="246.00" y="926.90" width="3.00" height="1.20" fill="#000"/>
<rect x="246.00" y="923.90" width="3.00" height="1.20" fill="#000"/>
<rect x="246.00" y="920.90" width="3.00" height="1.20" fill="#000"/>
<rect x="246.00" y="918.90" width="3.00" height="1.20" fill="#000"/>
<rect x="246.00" y="915.90" width="3.00" height="1.20" fill="#000"/>
<rect x="246.00" y="912.90" width="3.00" height="1.20" fill="#000"/>
<rect x="246.00" y="909.90" width="3.00" height="1.20" fill="#000"/>
<rect x="246.00" y="907.90" width="3.00" height="1.20" fill="#000"/>
<rect x="244.70" y="904.70" width="4.30" height="1.80" fill="#000"/>
<g transform="matrix(0.19000 0 0 0.20000 200.02 912.60)"><path transform="translate(0.0 0)" d="M38.9 0L24.7 0L24.7 -46L4 -46L4 -57C16 -57.5 24 -62.5 26 -71L38.9 -71Z"/><text x="55.6" y="0" font-size="100">0</text><text x="111.2" y="0" font-size="100">2</text><text x="166.8" y="0" font-size="100">4</text></g>
<line x1="251.6" y1="1038.1999999999998" x2="840.6" y2="1029.1999999999998" stroke="#000" stroke-opacity="0.18" stroke-width="3.5" stroke-dasharray="11.5 4.2" stroke-dashoffset="0.3" filter="url(#sh)"/>
<line x1="251.6" y1="1034.6" x2="840.6" y2="1025.6" stroke="#000" stroke-width="3.4" stroke-dasharray="11.5 4.2" stroke-dashoffset="0.3"/>
<rect x="259.70" y="970.20" width="41.60" height="206.00" rx="0.9"/>
<rect x="279.50" y="965.40" width="2.00" height="5.30" fill="#000"/>
<rect x="270.10" y="964.50" width="20.80" height="1.80" fill="#000"/>
<rect x="279.30" y="1176.20" width="2.40" height="6.40" fill="#000"/>
<text transform="translate(283.80 1195.90) rotate(-45)" text-anchor="end" font-size="20.0" stroke="#000" stroke-width="0.0" stroke-linejoin="round">PR/34</text>
<rect x="318.83" y="977.30" width="41.60" height="198.90" rx="0.9"/>
<rect x="338.43" y="1176.20" width="2.40" height="6.40" fill="#000"/>
<text transform="translate(342.93 1195.90) rotate(-45)" text-anchor="end" font-size="20.0" stroke="#000" stroke-width="0.0" stroke-linejoin="round">FM/47</text>
<rect x="377.96" y="1054.50" width="41.60" height="121.70" rx="0.9"/>
<rect x="397.76" y="1048.10" width="2.00" height="6.90" fill="#000"/>
<rect x="388.36" y="1047.20" width="20.80" height="1.80" fill="#000"/>
<rect x="397.56" y="1176.20" width="2.40" height="6.40" fill="#000"/>
<text transform="translate(402.06 1195.90) rotate(-45)" text-anchor="end" font-size="20.0" stroke="#000" stroke-width="0.0" stroke-linejoin="round">CA/09</text>
<rect x="437.09" y="950.30" width="41.60" height="225.90" rx="0.9"/>
<rect x="456.69" y="1176.20" width="2.40" height="6.40" fill="#000"/>
<text transform="translate(461.19 1195.90) rotate(-45)" text-anchor="end" font-size="20.0" stroke="#000" stroke-width="0.0" stroke-linejoin="round">TX/77</text>
<rect x="496.22" y="950.30" width="41.60" height="225.90" rx="0.9"/>
<rect x="515.82" y="1176.20" width="2.40" height="6.40" fill="#000"/>
<text transform="translate(520.32 1195.90) rotate(-45)" text-anchor="end" font-size="20.0" stroke="#000" stroke-width="0.0" stroke-linejoin="round">MS/85</text>
<rect x="555.35" y="1008.50" width="41.60" height="167.70" rx="0.9"/>
<rect x="575.15" y="1005.70" width="2.00" height="3.30" fill="#000"/>
<rect x="565.75" y="1004.80" width="20.80" height="1.80" fill="#000"/>
<rect x="574.95" y="1176.20" width="2.40" height="6.40" fill="#000"/>
<text transform="translate(579.45 1195.90) rotate(-45)" text-anchor="end" font-size="20.0" stroke="#000" stroke-width="0.0" stroke-linejoin="round">Aichi/68</text>
<rect x="614.48" y="954.60" width="41.60" height="221.60" rx="0.9"/>
<rect x="634.28" y="951.20" width="2.00" height="3.90" fill="#000"/>
<rect x="624.88" y="950.30" width="20.80" height="1.80" fill="#000"/>
<rect x="634.08" y="1176.20" width="2.40" height="6.40" fill="#000"/>
<text transform="translate(638.58 1195.90) rotate(-45)" text-anchor="end" font-size="20.0" stroke="#000" stroke-width="0.0" stroke-linejoin="round">Bris/07</text>
<rect x="673.61" y="1004.60" width="41.60" height="171.60" rx="0.9"/>
<rect x="693.41" y="996.10" width="2.00" height="9.00" fill="#000"/>
<rect x="684.01" y="995.20" width="20.80" height="1.80" fill="#000"/>
<rect x="693.21" y="1176.20" width="2.40" height="6.40" fill="#000"/>
<text transform="translate(697.71 1195.90) rotate(-45)" text-anchor="end" font-size="20.0" stroke="#000" stroke-width="0.0" stroke-linejoin="round">Goose/05</text>
<rect x="732.74" y="1013.50" width="41.60" height="162.70" rx="0.9"/>
<rect x="752.54" y="1008.60" width="2.00" height="5.40" fill="#000"/>
<rect x="743.14" y="1007.70" width="20.80" height="1.80" fill="#000"/>
<rect x="752.34" y="1176.20" width="2.40" height="6.40" fill="#000"/>
<text transform="translate(756.84 1195.90) rotate(-45)" text-anchor="end" font-size="20.0" stroke="#000" stroke-width="0.0" stroke-linejoin="round">Viet/04</text>
<rect x="791.87" y="1051.50" width="41.60" height="124.70" rx="0.9"/>
<rect x="811.67" y="1046.40" width="2.00" height="5.60" fill="#000"/>
<rect x="802.27" y="1045.50" width="20.80" height="1.80" fill="#000"/>
<rect x="811.47" y="1176.20" width="2.40" height="6.40" fill="#000"/>
<text transform="translate(815.97 1195.90) rotate(-45)" text-anchor="end" font-size="20.0" stroke="#000" stroke-width="0.0" stroke-linejoin="round">White Eye/06</text>
</svg></body></html>
